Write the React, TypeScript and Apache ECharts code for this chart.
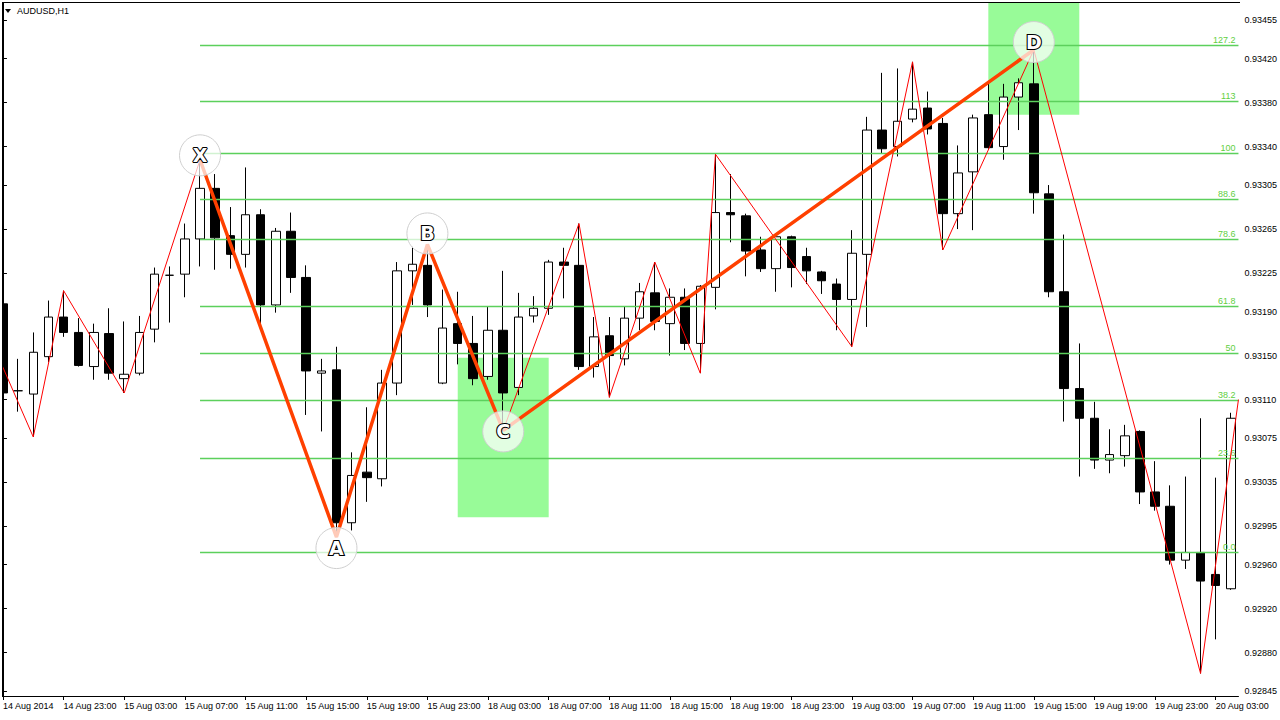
import React, { useEffect, useRef } from "react";
import * as echarts from "echarts";

// ---- categories (hourly bars, weekend skipped) ----
const sessionDays = ["14 Aug", "15 Aug", "18 Aug", "19 Aug", "20 Aug"];
const sessionFirstHour = [19, 0, 0, 0, 0];
const sessionLastHour = [23, 23, 23, 23, 4];
const firstLabel = "14 Aug 2014";

const categories: string[] = [];
sessionDays.forEach((d, k) => {
  for (let h = sessionFirstHour[k]; h <= sessionLastHour[k]; h++) {
    categories.push(`${d} ${String(h).padStart(2, "0")}:00`);
  }
});

// ---- OHLC ----
const opens = [
  0.93197, 0.93118, 0.93115, 0.93149, 0.93185, 0.93171, 0.9314, 0.9317, 0.93129, 0.93134,
  0.93174, 0.93223, 0.93224, 0.93256, 0.93302, 0.93259, 0.93242, 0.93278, 0.93196, 0.93263,
  0.93221, 0.93134, 0.93137, 0.92998, 0.93044, 0.93038, 0.93125, 0.93227, 0.93232, 0.93125,
  0.93179, 0.93161, 0.93131, 0.93173, 0.93121, 0.93186, 0.93193, 0.93235, 0.93232, 0.9314,
  0.93168, 0.93147, 0.93184, 0.93207, 0.93179, 0.93203, 0.93161, 0.93212, 0.9328, 0.93277,
  0.93246, 0.93229, 0.93258, 0.9324, 0.93226, 0.93215, 0.93201, 0.93242, 0.93355, 0.9334,
  0.93365, 0.93375, 0.93361, 0.93279, 0.93317, 0.93369, 0.9334, 0.93385, 0.93397, 0.93297,
  0.93208, 0.9312, 0.93093, 0.93055, 0.93059, 0.93081, 0.93026, 0.93013, 0.92964, 0.92971,
  0.92951, 0.92938,
];
const closes = [
  0.93116, 0.93118, 0.93153, 0.93185, 0.93171, 0.93141, 0.93171, 0.93134, 0.93133, 0.93171,
  0.93224, 0.93223, 0.93256, 0.93302, 0.93257, 0.93242, 0.93278, 0.93196, 0.93263, 0.93221,
  0.93136, 0.93136, 0.92998, 0.93041, 0.93039, 0.93125, 0.93227, 0.93233, 0.93196, 0.93175,
  0.93161, 0.93129, 0.93173, 0.93116, 0.93185, 0.93193, 0.93235, 0.93232, 0.9314, 0.93167,
  0.9315, 0.93184, 0.93208, 0.93181, 0.93203, 0.93161, 0.93213, 0.9328, 0.93278, 0.93245,
  0.93229, 0.93258, 0.9323, 0.93227, 0.93218, 0.93201, 0.93243, 0.93355, 0.93338, 0.93363,
  0.93374, 0.93356, 0.93279, 0.93316, 0.93366, 0.93339, 0.93385, 0.93398, 0.93298, 0.93208,
  0.9312, 0.93093, 0.93055, 0.9306, 0.93077, 0.93026, 0.93013, 0.92964, 0.92971, 0.92945,
  0.92941, 0.93093,
];
const lows = [
  0.93111, 0.93099, 0.93076, 0.93144, 0.93167, 0.9314, 0.93128, 0.93128, 0.93116, 0.93132,
  0.93162, 0.9318, 0.93203, 0.93231, 0.93228, 0.93229, 0.9323, 0.93178, 0.93189, 0.93207,
  0.93096, 0.93081, 0.92985, 0.92991, 0.93017, 0.93031, 0.93114, 0.93196, 0.93185, 0.93124,
  0.93142, 0.93123, 0.93128, 0.93082, 0.93114, 0.9318, 0.93187, 0.93202, 0.93137, 0.9313,
  0.93112, 0.93141, 0.93173, 0.93173, 0.9315, 0.93155, 0.93134, 0.93192, 0.93253, 0.93222,
  0.93226, 0.93208, 0.93212, 0.93215, 0.93206, 0.93173, 0.93158, 0.93176, 0.93334, 0.93331,
  0.93362, 0.93351, 0.93246, 0.93265, 0.93264, 0.93338, 0.93328, 0.93355, 0.93279, 0.93203,
  0.9309, 0.9304, 0.93047, 0.93043, 0.93049, 0.93015, 0.93009, 0.9296, 0.92956, 0.92861,
  0.92892, 0.92937,
];
const highs = [
  0.93202, 0.93147, 0.93171, 0.932, 0.93209, 0.93184, 0.93179, 0.93193, 0.93181, 0.93186,
  0.9323, 0.93231, 0.9327, 0.93328, 0.93315, 0.93285, 0.93321, 0.93283, 0.93266, 0.9328,
  0.93232, 0.93147, 0.93158, 0.93062, 0.93103, 0.93137, 0.93235, 0.93249, 0.93251, 0.9321,
  0.93208, 0.93186, 0.93195, 0.93227, 0.93207, 0.93204, 0.93237, 0.93248, 0.9327, 0.93185,
  0.93185, 0.93195, 0.93216, 0.93235, 0.93211, 0.93211, 0.93214, 0.93333, 0.93315, 0.93279,
  0.93258, 0.93259, 0.93259, 0.93248, 0.93227, 0.9322, 0.93264, 0.93367, 0.93407, 0.93411,
  0.93417, 0.9339, 0.93366, 0.93341, 0.93369, 0.93399, 0.93397, 0.93402, 0.93428, 0.93305,
  0.9326, 0.93161, 0.93108, 0.93083, 0.93087, 0.93082, 0.93054, 0.93032, 0.9304, 0.93093,
  0.93039, 0.93098,
];

// ---- price axis labels ----
const priceTicks = [
  0.92845, 0.9288, 0.9292, 0.9296, 0.92995, 0.93035, 0.93075, 0.9311, 0.9315, 0.9319,
  0.93225, 0.93265, 0.93305, 0.9334, 0.9338, 0.9342, 0.93455,
];
const priceMin = 0.928405;
const priceMax = 0.934705;

// ---- ZigZag (thin red) ----
const zigzagIdx = [-0.5, 2, 4, 8, 13, 22, 28, 33, 38, 40, 43, 46, 47, 56, 60, 62, 68, 79, 81.5];
const zigzagPrice = [
  0.93155, 0.93076, 0.93209, 0.93116, 0.93328, 0.92985, 0.93251, 0.93082, 0.9327, 0.93112,
  0.93235, 0.93134, 0.93333, 0.93158, 0.93417, 0.93246, 0.93428, 0.92861, 0.9311,
];

// ---- XABCD pattern ----
const patternNames = ["X", "A", "B", "C", "D"];
const patternIdx = [13, 22, 28, 33, 68];
const patternPrice = [0.93328, 0.92985, 0.93251, 0.93082, 0.93428];
const patternLabelPrice = [0.93332, 0.92975, 0.93261, 0.93081, 0.93435];

// ---- Fibonacci ----
const fibLevels = [0, 23.6, 38.2, 50, 61.8, 78.6, 88.6, 100, 113, 127.2];
const fibLabels = ["0.0", "23.6", "38.2", "50", "61.8", "78.6", "88.6", "100", "113", "127.2"];
const fibZero = 0.92971;
const fibFull = 0.93334;
const fibStartIdx = 13;

// ---- green zones [fromIdx, toIdx, top, bottom] ----
const zoneFrom = [30, 65];
const zoneTo = [36, 71];
const zoneTop = [0.93148, 0.9349];
const zoneBottom = [0.93003, 0.93369];

const FONT = '"Liberation Sans", Arial, sans-serif';
// the chart canvas is shifted left so the first (clipped) bar can sit under the frame
const SHIFT = 5;
const CHART_W = 1280 + SHIFT;

export default function App() {
  const ref = useRef<HTMLDivElement>(null);
  useEffect(() => {
    document.body.style.margin = "0";
    document.body.style.overflow = "hidden";
    if (!ref.current) return;
    const chart = echarts.init(ref.current, undefined, { renderer: "svg" });
    const n = categories.length;
    const candleData = opens.map((o, i) => [o, closes[i], lows[i], highs[i]]);
    const fibData = fibLevels.map((l, i) => [fibStartIdx, fibZero + ((fibFull - fibZero) * l) / 100, i]);
    const X = (v: number) => v + SHIFT;

    const option: any = {
      animation: false,
      backgroundColor: "#ffffff",
      grid: { left: 0.36, right: 40.2, top: 3, bottom: 24, containLabel: false },
      xAxis: [
        {
          type: "category",
          data: categories,
          boundaryGap: true,
          axisLine: { show: true, lineStyle: { color: "#000", width: 1 } },
          axisTick: {
            show: true,
            alignWithLabel: true,
            length: 4,
            interval: (idx: number) => idx % 4 === 0,
            lineStyle: { color: "#000" },
          },
          axisLabel: {
            show: true,
            interval: (idx: number) => idx % 4 === 0,
            formatter: (v: string, idx: number) => (idx === 0 ? firstLabel : v),
            align: "left",
            margin: 5,
            fontSize: 9,
            fontFamily: FONT,
            color: "#000",
            hideOverlap: false,
          },
          splitLine: { show: false },
        },
        { type: "value", min: -0.5, max: n - 0.5, show: false },
      ],
      yAxis: {
        type: "value",
        position: "right",
        min: priceMin,
        max: priceMax,
        scale: true,
        axisLine: { show: true, lineStyle: { color: "#000", width: 1 } },
        axisTick: { show: true, length: 4, customValues: priceTicks, lineStyle: { color: "#000" } },
        axisLabel: {
          show: true,
          customValues: priceTicks,
          formatter: (v: number) => v.toFixed(5),
          margin: 6,
          fontSize: 9,
          fontFamily: FONT,
          color: "#000",
        },
        splitLine: { show: false },
      },
      series: [
        {
          type: "custom",
          name: "zones",
          xAxisIndex: 1,
          z: 1,
          clip: true,
          data: zoneFrom.map((f, i) => [f, zoneTo[i], zoneTop[i], zoneBottom[i]]),
          encode: { x: [0, 1], y: [2, 3] },
          renderItem: (params: any, api: any) => {
            const p1 = api.coord([api.value(0), api.value(2)]);
            const p2 = api.coord([api.value(1), api.value(3)]);
            return {
              type: "rect",
              shape: { x: p1[0], y: p1[1], width: p2[0] - p1[0], height: p2[1] - p1[1] },
              style: { fill: "#98FB98" },
            };
          },
        },
        {
          type: "candlestick",
          name: "AUDUSD",
          xAxisIndex: 0,
          z: 2,
          barWidth: 9,
          data: candleData,
          itemStyle: {
            color: "#ffffff",
            color0: "#000000",
            borderColor: "#000000",
            borderColor0: "#000000",
            borderColorDoji: "#000000",
            borderWidth: 1,
          },
        },
        {
          type: "custom",
          name: "fib",
          xAxisIndex: 1,
          z: 3,
          data: fibData,
          encode: { x: 0, y: 1 },
          renderItem: (params: any, api: any) => {
            const p = api.coord([api.value(0), api.value(1)]);
            const right = params.coordSys.x + params.coordSys.width;
            const y = Math.round(p[1]) + 0.5;
            return {
              type: "group",
              children: [
                {
                  type: "line",
                  shape: { x1: p[0], y1: y, x2: right, y2: y },
                  style: { stroke: "#5cd05c", lineWidth: 1.6 },
                },
                {
                  type: "text",
                  style: {
                    text: fibLabels[api.value(2)],
                    x: right - 3,
                    y: y - 1.5,
                    align: "right",
                    verticalAlign: "bottom",
                    fill: "#5fcf3f",
                    fontSize: 9,
                    fontFamily: FONT,
                  },
                },
              ],
            };
          },
        },
        {
          type: "line",
          name: "zigzag",
          xAxisIndex: 1,
          z: 4,
          symbol: "none",
          clip: true,
          data: zigzagIdx.map((x, i) => [x, zigzagPrice[i]]),
          lineStyle: { color: "#ff0000", width: 1 },
        },
        {
          type: "line",
          name: "pattern",
          xAxisIndex: 1,
          z: 5,
          symbol: "none",
          data: patternIdx.map((x, i) => [x, patternPrice[i]]),
          lineStyle: { color: "#ff4000", width: 3.5 },
        },
        {
          type: "scatter",
          name: "points",
          xAxisIndex: 1,
          z: 6,
          symbol: "circle",
          symbolSize: 41,
          data: patternIdx.map((x, i) => [x, patternLabelPrice[i]]),
          itemStyle: { color: "rgba(255,255,255,0.72)", borderColor: "#cfcfcf", borderWidth: 1, opacity: 1 },
          label: {
            show: true,
            position: "inside",
            formatter: (p: any) => patternNames[p.dataIndex],
            fontSize: 19,
            fontWeight: "bold",
            fontFamily: '"DejaVu Sans", sans-serif',
            color: "#ffffff",
            textBorderColor: "#000000",
            textBorderWidth: 2.2,
          },
        },
      ],
      graphic: [
        { type: "rect", z: 100, shape: { x: 0, y: 0, width: X(2), height: 697 }, style: { fill: "#fff" } },
        { type: "rect", z: 100, shape: { x: 0, y: 0, width: X(1240), height: 2 }, style: { fill: "#fff" } },
        { type: "line", z: 101, shape: { x1: X(2.5), y1: 2, x2: X(2.5), y2: 696 }, style: { stroke: "#000", lineWidth: 1 } },
        { type: "line", z: 101, shape: { x1: X(2), y1: 2.5, x2: X(1240), y2: 2.5 }, style: { stroke: "#000", lineWidth: 1 } },
        { type: "polygon", z: 101, shape: { points: [[X(5), 9], [X(11), 9], [X(8), 13]] }, style: { fill: "#000" } },
        {
          type: "text",
          z: 101,
          style: { text: "AUDUSD,H1", x: X(17), y: 11, verticalAlign: "middle", fill: "#000", fontSize: 9, fontFamily: FONT },
        },
      ],
    };
    chart.setOption(option);
    return () => chart.dispose();
  }, []);
  return (
    <div style={{ width: 1280, height: 720, overflow: "hidden", position: "relative" }}>
      <div ref={ref} style={{ position: "absolute", left: -SHIFT, top: 0, width: CHART_W, height: 720 }} />
    </div>
  );
}
